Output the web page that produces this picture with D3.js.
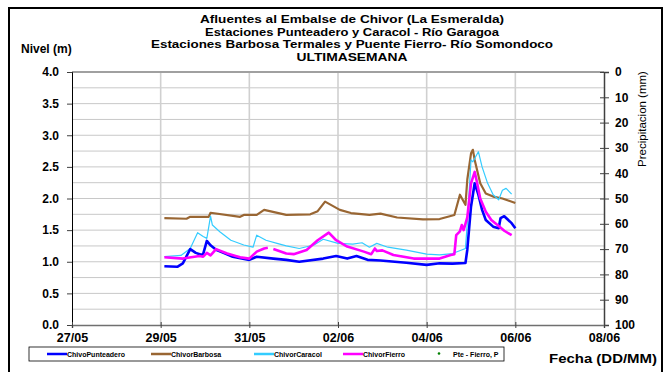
<!DOCTYPE html>
<html><head><meta charset="utf-8">
<script src="https://cdn.jsdelivr.net/npm/d3@7"></script>
<style>body{margin:0;background:#fff}svg{display:block}text{font-family:"Liberation Sans",Arial,sans-serif}</style>
</head><body><svg id="c" width="668" height="372"></svg>
<script>
// hours since 29/05 00:00
const titleLines = ["Afluentes al Embalse de Chivor (La Esmeralda)","Estaciones Punteadero y Caracol - Río Garagoa","Estaciones Barbosa Termales y Puente Fierro- Río Somondoco","ULTIMASEMANA"];
const levelTicks = [0,0.5,1,1.5,2,2.5,3,3.5,4];
const precipTicks = [0,10,20,30,40,50,60,70,80,90,100];
const dateTicks = ["27/05","29/05","31/05","02/06","04/06","06/06","08/06"];
const seriesNames = ["ChivoPunteadero","ChivorBarbosa","ChivorCaracol","ChivorFierro"];

const hoursPunteadero = [2,9,12,16,19,22,23,25,27,30,34,39,48,52,61,68,75,88,95,101,106,112,119,133,144,151,158,165,166,168,170,172,174,176,180,183,184,186,190,192];
const valuesPunteadero = [0.93,0.92,0.975,1.20,1.14,1.11,1.12,1.33,1.26,1.19,1.14,1.08,1.03,1.08,1.05,1.03,1.00,1.05,1.09,1.05,1.09,1.03,1.02,0.985,0.95,0.975,0.97,0.98,1.19,1.87,2.24,2.06,1.82,1.66,1.555,1.53,1.69,1.72,1.61,1.53];

const hoursBarbosa = [2,14,16,26,27,43,45,52,56,68,81,85,89,97,103,113,119,128,142,151,159,162,165,166,168,169,170,173,176,180,185,192];
const valuesBarbosa = [1.69,1.68,1.71,1.71,1.775,1.71,1.74,1.74,1.82,1.74,1.75,1.80,1.95,1.82,1.77,1.74,1.76,1.70,1.67,1.675,1.74,2.06,1.90,2.30,2.71,2.77,2.61,2.24,2.08,2.03,2.00,1.93];

const hoursCaracol = [2,11,16,20,23,25,27,28,32,38,45,50,52,57,63,68,75,83,88,96,104,109,113,117,123,133,144,151,158,165,166,168,169,172,174,177,180,183,185,187,190];
const valuesCaracol = [1.08,1.10,1.21,1.46,1.40,1.37,1.72,1.58,1.475,1.34,1.265,1.23,1.42,1.34,1.29,1.25,1.21,1.265,1.355,1.29,1.28,1.30,1.23,1.29,1.23,1.185,1.12,1.11,1.13,1.21,1.61,2.61,2.58,2.74,2.50,2.24,2.06,1.98,2.13,2.16,2.07];

const hoursFierro = [2,12,21,23,25,27,30,36,43,48,52,56,58,59,61,68,72,79,85,91,95,101,110,114,116,117,120,126,137,151,157,159,160,162,163,164,166,168,170,171,173,176,179,183,186,190];
const valuesFierro = [1.07,1.05,1.09,1.08,1.14,1.10,1.20,1.13,1.07,1.05,1.16,1.21,1.22,null,1.20,1.13,1.12,1.186,1.34,1.46,1.34,1.24,1.16,1.12,1.21,1.17,1.18,1.107,1.05,1.05,1.107,1.12,1.42,1.48,1.58,1.50,1.70,2.24,2.42,2.29,2.0,1.79,1.66,1.565,1.49,1.42];

const colors = ["#0000ff","#996633","#33ccff","#ff00ff"];
const widths = [2.6,2.2,1.2,2.6];

const svg = d3.select("#c");
const W=668,H=372;
const L=72,R=604,T=72,B=325;
const t0 = new Date(2013,4,27), t1 = new Date(2013,5,8);
const base = new Date(2013,4,29);
const x = d3.scaleTime().domain([t0,t1]).range([L,R]);
const y = d3.scaleLinear().domain([0,4]).range([B,T]);
const yP = d3.scaleLinear().domain([0,100]).range([T,B]);
const hd = h => new Date(base.getTime()+h*3600e3);

svg.append("rect").attr("width",W).attr("height",H).attr("fill","#fff");
svg.append("path").attr("d",`M9,${H+5}V8H662V${H+5}`).attr("fill","none").attr("stroke","#000").attr("stroke-width",2);

const g = svg.append("g");
g.selectAll("line.h").data(d3.range(1,16).map(i=>i*0.25)).join("line")
 .attr("x1",L).attr("x2",R).attr("y1",d=>y(d)).attr("y2",d=>y(d))
 .attr("stroke","#c8c8c8").attr("stroke-width",1);
const dateVals = dateTicks.map((s,i)=>d3.timeDay.offset(t0,i*2));
g.selectAll("line.v").data(dateVals.slice(1,-1)).join("line")
 .attr("x1",d=>x(d)).attr("x2",d=>x(d)).attr("y1",T).attr("y2",B)
 .attr("stroke","#d0d0d0").attr("stroke-width",1.6);
svg.append("line").attr("x1",L).attr("x2",R).attr("y1",T).attr("y2",T).attr("stroke","#a0a0a0").attr("stroke-width",2);

const fmtL = d3.format(".1f");
const axL = svg.append("g").attr("transform",`translate(${L},0)`)
 .call(d3.axisLeft(y).tickValues(levelTicks).tickFormat(fmtL).tickSize(5).tickPadding(8));
axL.select(".domain").attr("stroke","#000");
axL.selectAll(".tick line").attr("stroke","#404040");
axL.selectAll("text").attr("font-size",12).attr("font-weight","bold").attr("fill","#000");

const axR = svg.append("g").attr("transform",`translate(${R},0)`)
 .call(d3.axisRight(yP).tickValues(precipTicks).tickSize(5).tickPadding(6));
axR.select(".domain").attr("stroke","#404040").attr("stroke-width",1.5);
axR.selectAll(".tick line").attr("stroke","#404040").attr("x1",-4);
axR.selectAll("text").attr("font-size",12).attr("font-weight","bold").attr("fill","#000");

const axB = svg.append("g").attr("transform",`translate(0,${B})`)
 .call(d3.axisBottom(x).tickValues(dateVals).tickFormat((d,i)=>dateTicks[i]).tickSize(3).tickPadding(5));
axB.select(".domain").attr("stroke","#707070").attr("stroke-width",1.5);
axB.selectAll(".tick line").attr("stroke","#404040").attr("y1",-3);
axB.selectAll("text").attr("font-size",12.5).attr("font-weight","bold").attr("fill","#000");

const series = [[hoursPunteadero,valuesPunteadero],[hoursBarbosa,valuesBarbosa],[hoursCaracol,valuesCaracol],[hoursFierro,valuesFierro]];
const line = d3.line().defined(d=>d[1]!=null).x(d=>x(hd(d[0]))).y(d=>y(d[1]));
[1,2,0,3].forEach(i=>{
  const [hs,vs]=series[i];
  svg.append("path").datum(hs.map((h,k)=>[h,vs[k]])).attr("d",line)
   .attr("fill","none").attr("stroke",colors[i]).attr("stroke-width",widths[i]).attr("stroke-linejoin","round");
});

const titleW=[304,294,402,111];
svg.selectAll("text.title").data(titleLines).join("text")
 .attr("x",352).attr("y",(d,i)=>23+i*12.7).attr("text-anchor","middle")
 .attr("font-size",10.8).attr("font-weight","bold")
 .attr("textLength",(d,i)=>titleW[i]).attr("lengthAdjust","spacingAndGlyphs").text(d=>d);
svg.append("text").attr("x",21).attr("y",53).attr("font-size",12).attr("font-weight","bold").text("Nivel (m)");
svg.append("text").attr("transform","translate(646,119) rotate(-90)").attr("text-anchor","middle")
 .attr("font-size",11.5).text("Precipitacion (mm)");
svg.append("text").attr("x",549).attr("y",363).attr("font-size",13).attr("font-weight","bold")
 .attr("textLength",108).attr("lengthAdjust","spacingAndGlyphs").text("Fecha (DD/MM)");

const lg = svg.append("g");
lg.append("rect").attr("x",29).attr("y",347).attr("width",475).attr("height",14).attr("fill","#fff").attr("stroke","#000").attr("stroke-width",0.8);
const lx=[47,151,254,343];
seriesNames.forEach((n,i)=>{
  lg.append("line").attr("x1",lx[i]).attr("x2",lx[i]+20).attr("y1",354).attr("y2",354).attr("stroke",colors[i]).attr("stroke-width",2.5);
  lg.append("text").attr("x",lx[i]+20).attr("y",357).attr("font-size",7).attr("font-weight","bold").text(n);
});
lg.append("circle").attr("cx",439).attr("cy",353.5).attr("r",1.3).attr("fill","#008000");
lg.append("text").attr("x",453).attr("y",357).attr("font-size",7).attr("font-weight","bold").text("Pte - Fierro, P");
</script></body></html>
